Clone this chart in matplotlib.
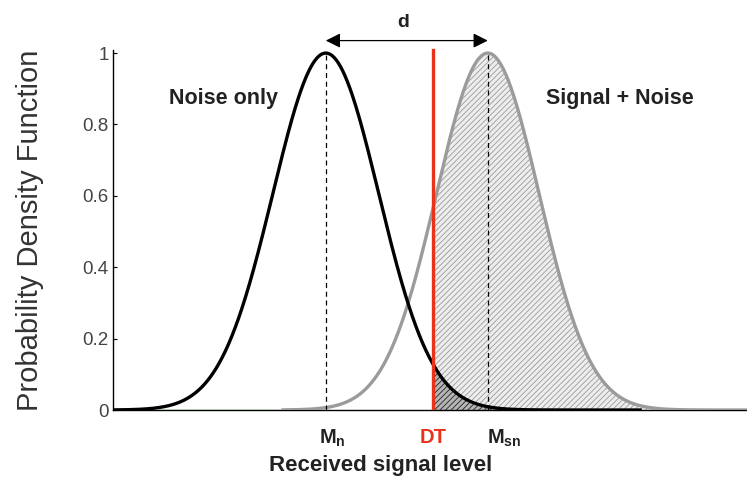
import numpy as np
import matplotlib.pyplot as plt

plt.rcParams['font.family'] = ['Liberation Sans', 'DejaVu Sans']
plt.rcParams['mathtext.fontset'] = 'custom'
plt.rcParams['mathtext.bf'] = 'Liberation Sans:bold'
plt.rcParams['mathtext.rm'] = 'Liberation Sans'
plt.rcParams['hatch.linewidth'] = 0.6

# model parameters (received signal level, arbitrary units)
mean_noise = 3.94
mean_signal = 6.94
sigma_noise = 0.98
sigma_signal = 0.95
threshold = 5.93
noise_range = [0.0, 9.76]
signal_range = [3.15, 11.8]
x_max = 11.74

yticks = [0, 0.2, 0.4, 0.6, 0.8, 1]
ytick_labels = ['0', '0.2', '0.4', '0.6', '0.8', '1']


def pdf(x, m, s):
    # gaussian scaled to a peak of 1
    return np.exp(-(x - m) ** 2 / (2 * s ** 2))


xn = np.linspace(noise_range[0], noise_range[1], 800)
xs = np.linspace(signal_range[0], signal_range[1], 800)
yn = pdf(xn, mean_noise, sigma_noise)
ys = pdf(xs, mean_signal, sigma_signal)

fig = plt.figure(figsize=(7.47, 4.88), dpi=100)
ax = fig.add_axes([0.1513, 0.1598, 0.8487, 0.768])
ax.set_xlim(0, x_max)
ax.set_ylim(0, 1.05)

# detection area (signal + noise beyond the threshold)
m = xs >= threshold
ax.fill_between(xs[m], 0, ys[m], facecolor='#ededed', edgecolor='#9a9a9a',
                hatch='//////', linewidth=0, zorder=1)
# false alarm area (noise beyond the threshold)
m = xn >= threshold
ax.fill_between(xn[m], 0, yn[m], facecolor='#b5b5b5', edgecolor='#222222',
                hatch='//////', linewidth=0, zorder=2)

ax.plot([0, signal_range[0]], [0, 0], color='#4f9a4f', lw=1, zorder=3)
ax.plot(xs, ys, color='#9b9b9b', lw=2.4, zorder=4)
ax.plot(xn, yn, color='black', lw=2.4, zorder=5)

ax.plot([mean_noise, mean_noise], [0, 1], color='black', lw=0.9, ls=(0, (4, 3)), zorder=6)
ax.plot([mean_signal, mean_signal], [0, 1], color='black', lw=0.9, ls=(0, (4, 3)), zorder=6)
ax.plot([threshold, threshold], [0, 1.01], color='#e8321a', lw=2.4, zorder=7)

# separation between the two means
ax.annotate('', xy=(mean_signal, 1.035), xytext=(mean_noise, 1.035),
            arrowprops=dict(arrowstyle='<|-|>', color='black', lw=0.9,
                            mutation_scale=22, shrinkA=0, shrinkB=0),
            annotation_clip=False)
ax.text((mean_noise + mean_signal) / 2 - 0.07, 1.085, 'd', fontsize=14,
        fontweight='bold', ha='center', va='center', color='#222222', clip_on=False)

ax.text(2.04, 0.874, 'Noise only', fontsize=15.5, fontweight='bold',
        ha='center', va='center', color='#222222')
ax.text(9.39, 0.874, 'Signal + Noise', fontsize=15.5, fontweight='bold',
        ha='center', va='center', color='#222222')

ax.text(mean_noise + 0.12, -0.078, r'$\mathbf{M_{n}}$', fontsize=14.5,
        ha='center', va='center', color='#222222')
ax.text(threshold, -0.078, 'DT', fontsize=14.5, fontweight='bold',
        ha='center', va='center', color='#e8321a')
ax.text(mean_signal + 0.3, -0.078, r'$\mathbf{M_{sn}}$', fontsize=14.5,
        ha='center', va='center', color='#222222')

ax.set_yticks(yticks)
ax.set_yticklabels(ytick_labels)
ax.set_xticks([])
ax.tick_params(axis='y', direction='in', length=3, labelsize=13.5,
               labelcolor='#444444', pad=3)
for s in ['top', 'right']:
    ax.spines[s].set_visible(False)
ax.spines['left'].set_bounds(0, 1.01)
ax.spines['left'].set_linewidth(1.0)
ax.spines['bottom'].set_linewidth(1.0)

fig.text(0.04, 0.528, 'Probability Density Function', rotation=90,
         fontsize=21, ha='center', va='center', color='#333333')
fig.text(0.51, 0.047, 'Received signal level', fontsize=16, fontweight='bold',
         ha='center', va='center', color='#222222')

fig.savefig('out.png', dpi=100)
